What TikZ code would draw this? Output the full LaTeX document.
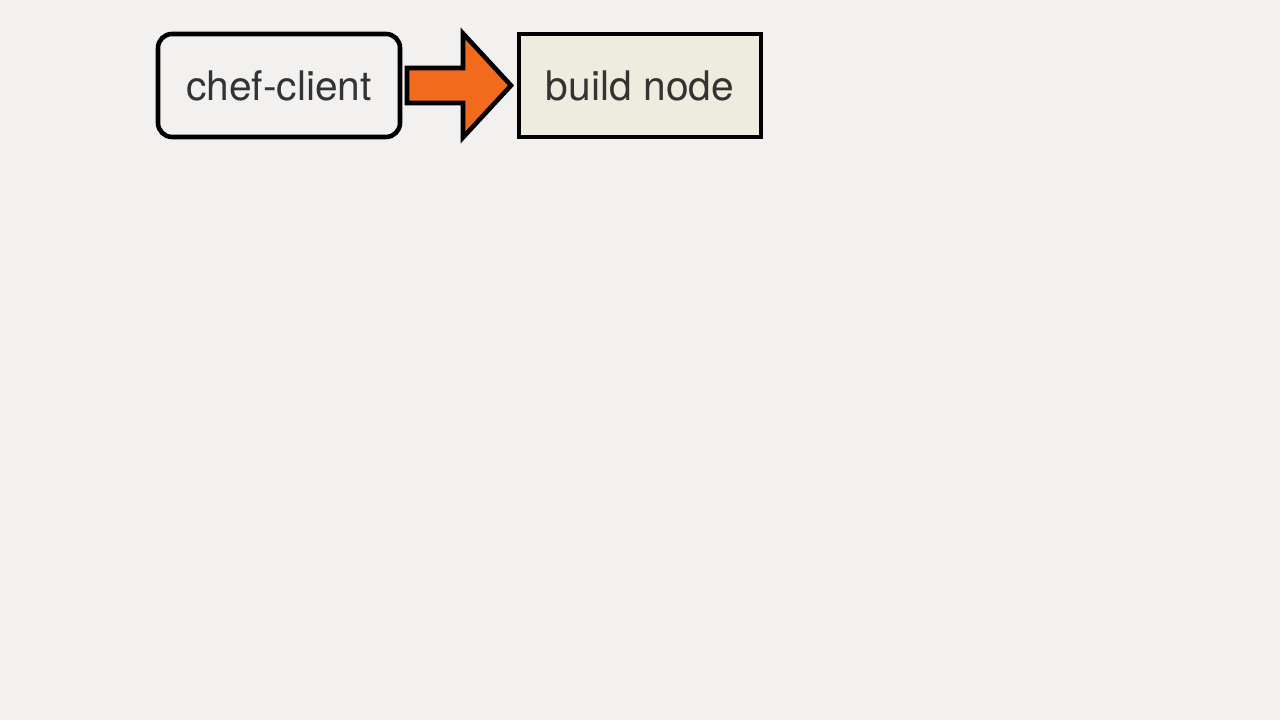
\documentclass[tikz,border=0pt]{standalone}
\usepackage{fontspec}
\setmainfont{TeX Gyre Heros}
\usepackage{tikz}
\usetikzlibrary{positioning,calc}

\definecolor{slidebg}{HTML}{F2F1EF}
\definecolor{boxfill}{HTML}{EEECDF}
\definecolor{arroworange}{HTML}{F26A1C}
\definecolor{textgray}{HTML}{333333}

\tikzset{
    stepnode/.style={draw=black, line width=1.3pt, outer sep=0pt,
        minimum width=2.42cm, minimum height=1.03cm,
        text=textgray, font=\fontsize{11.6}{14}\selectfont},
}

\begin{document}
\begin{tikzpicture}
        % The slide
        \fill[slidebg] (0,0) rectangle (12.8,7.2);
        \useasboundingbox (0,0) rectangle (12.8,7.2);

        % The boxes
        \node[stepnode, rounded corners=0.14cm] (client) at (2.79,6.345) {chef-client};
        \node[stepnode, fill=boxfill, right=1.19cm of client] (build) {build node};

        % The arrow
        \coordinate (tail) at ($(client.east)+(0.07,0)$);
        \coordinate (tip) at ($(build.west)+(-0.08,0)$);
        \draw[line width=1.3pt, fill=arroworange, line join=miter]
            ($(tail)+(0,0.175)$) -- ($(tip)+(-0.48,0.175)$) -- ($(tip)+(-0.48,0.52)$)
            -- (tip) -- ($(tip)+(-0.48,-0.52)$) -- ($(tip)+(-0.48,-0.175)$)
            -- ($(tail)+(0,-0.175)$) -- cycle;
\end{tikzpicture}
\end{document}
